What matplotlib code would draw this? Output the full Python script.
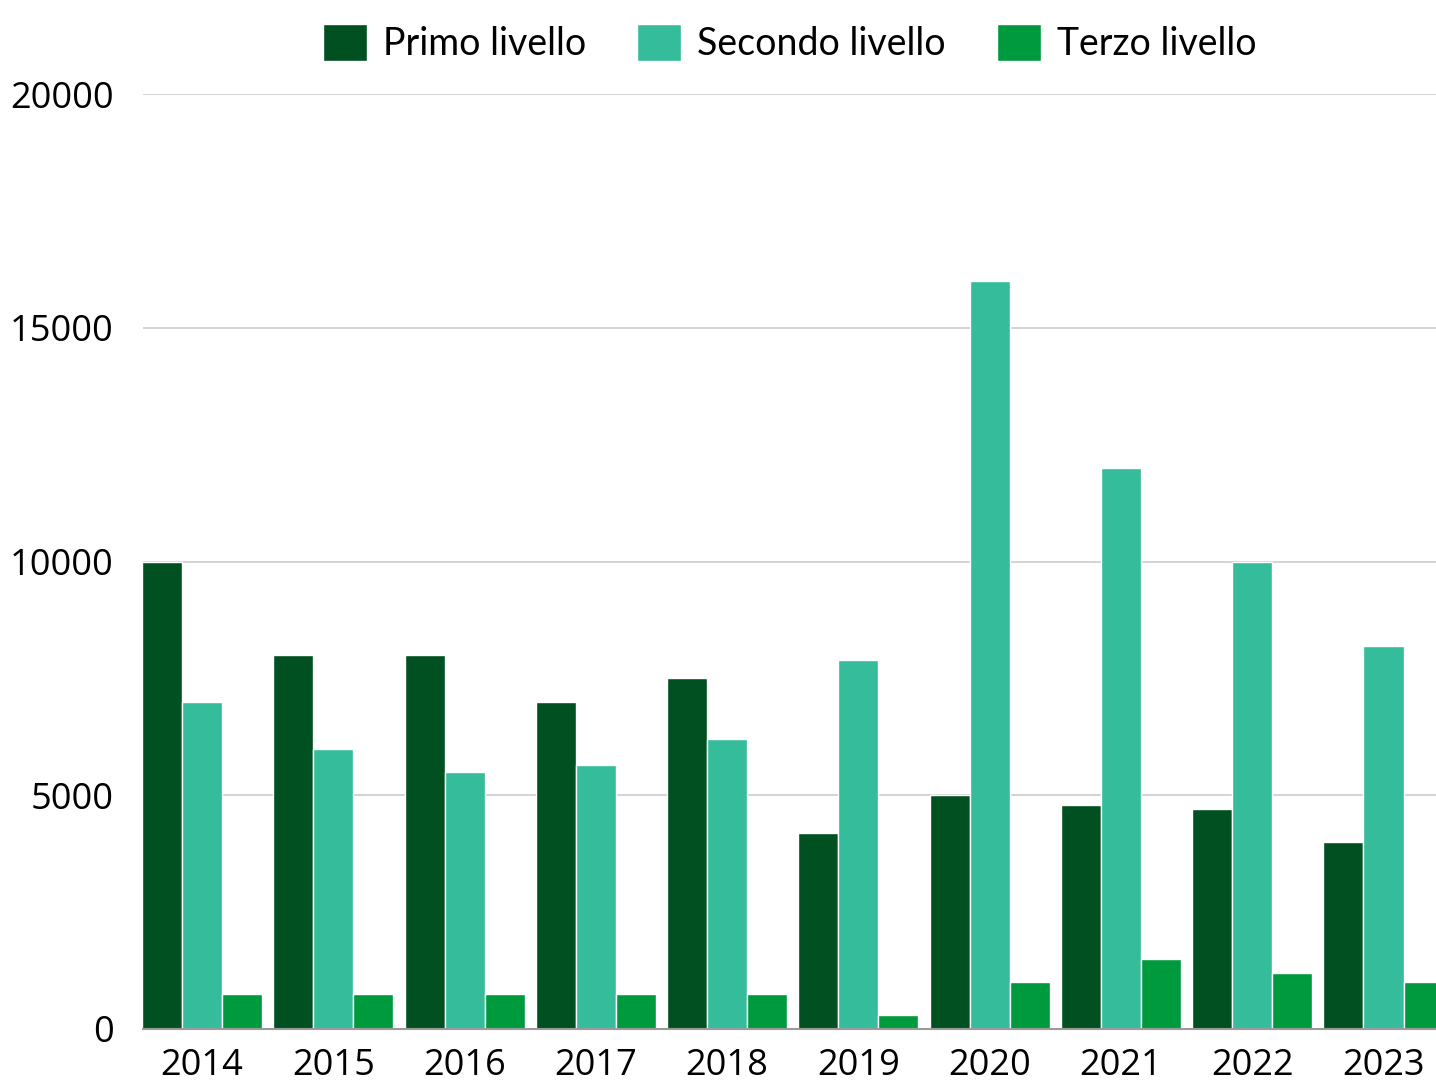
import matplotlib.pyplot as plt
import numpy as np

# data
years = ['2014', '2015', '2016', '2017', '2018', '2019', '2020', '2021', '2022', '2023']
primo = [10000, 8000, 8000, 7000, 7500, 4200, 5000, 4800, 4700, 4000]
secondo = [7000, 6000, 5500, 5650, 6200, 7900, 16000, 12000, 10000, 8200]
terzo = [750, 750, 750, 750, 750, 300, 1000, 1500, 1200, 1000]
series_names = ['Primo livello', 'Secondo livello', 'Terzo livello']
colors = ['#005022', '#35bc9b', '#009a3e']

plt.rcParams['font.family'] = ['Open Sans', 'DejaVu Sans']

W, H = 1436, 1081
fig = plt.figure(figsize=(W/100, H/100), dpi=100)
ax = fig.add_axes([143/W, 52/H, 1293/W, 935/H])

x = np.arange(len(years))
bw = 0.305
for k, (vals, name, c) in enumerate(zip([primo, secondo, terzo], series_names, colors)):
    ax.bar(x + (k-1)*bw, vals, width=bw, color=c, edgecolor='white',
           linewidth=1.0, label=name, zorder=3)

ax.set_xlim(-0.45, 9.40)
ax.set_ylim(0, 20000)
ax.set_yticks([0, 5000, 10000, 15000, 20000])
ax.set_xticks(x)
ax.set_xticklabels(years)
ax.yaxis.grid(True, color='#c8c8c8', linewidth=1.1, zorder=0)
ax.set_axisbelow(True)
for s in ['left', 'right', 'top']:
    ax.spines[s].set_visible(False)
ax.spines['bottom'].set_color('#9a9a9a')
ax.spines['bottom'].set_linewidth(1.5)
ax.spines['bottom'].set_zorder(4)
ax.tick_params(axis='both', length=0, labelsize=26, colors='black')
ax.tick_params(axis='y', pad=21)
ax.tick_params(axis='x', pad=14)

leg = ax.legend(loc='center', bbox_to_anchor=(0.5, 1 + 51/935), ncol=3,
                frameon=False, prop={'family': ['Lato', 'DejaVu Sans'], 'size': 27},
                handlelength=1.17, handleheight=1.17,
                handletextpad=0.43, columnspacing=1.36)

fig.savefig('out.png', dpi=100)
